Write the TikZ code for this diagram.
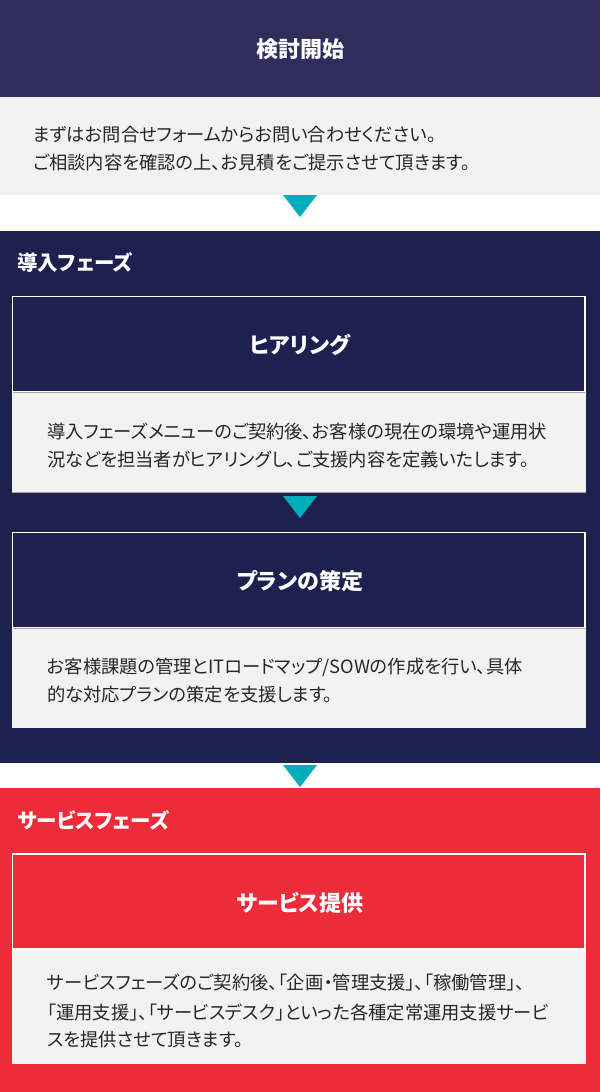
\documentclass[tikz,border=0pt]{standalone}
\usepackage{fontspec}
\usetikzlibrary{calc}
\setmainfont{Noto Sans CJK JP}[RawFeature=+palt]
\begin{document}
\begin{tikzpicture}[x=1pt,y=-1pt,
  title/.style={font=\fontsize{22}{24}\selectfont\bfseries, text=white, inner sep=0pt},
  phase/.style={font=\fontsize{20.5}{24}\selectfont\bfseries, text=white, inner sep=0pt, anchor=west},
  body/.style={font=\fontsize{18.3}{20}\selectfont, text=bodyc, inner sep=0pt, anchor=west},
  marker/.style={fill=tealc},
  panel/.style={fill=greyc},
  header/.style={draw=white, line width=1.6pt}
]
\definecolor{topc}{HTML}{302D5D}
\definecolor{navyc}{HTML}{1C214F}
\definecolor{redc}{HTML}{EE2B39}
\definecolor{tealc}{HTML}{00AEBB}
\definecolor{greyc}{HTML}{F2F2F2}
\definecolor{bodyc}{HTML}{262626}
\definecolor{linec}{HTML}{A6A6B0}
\useasboundingbox (0,0) rectangle (600,1092);
\fill[white] (0,0) rectangle (600,1092);

% --- start block
\fill[topc] (0,0) rectangle (600,96.5);
\node[title] (t0) at (300,49) {検討開始};
\fill[panel] (0,96.5) rectangle (600,195);
\node[body] (b0a) at (33,135) {まずはお問合せフォームからお問い合わせください。};
\node[body] (b0b) at (33,163) {ご相談内容を確認の上、お見積をご提示させて頂きます。};
\coordinate (m1) at (300,195);
\fill[marker] ($(m1)+(-17,0)$) -- ($(m1)+(17,0)$) -- ($(m1)+(0,22)$) -- cycle;

% --- introduction phase
\fill[navyc] (0,231) rectangle (600,763);
\node[phase] (p1) at (17,262) {導入フェーズ};

\fill[panel] (12,392) rectangle (585.5,492.5);
\draw[linec, line width=0.6pt] (12,492.5) -- (585.5,492.5);
\draw[header, fill=navyc] (12.5,296.5) rectangle (585,392);
\draw[linec, line width=0.8pt] (13,392.6) -- (584.5,392.6);
\node[title] (t1) at (300,345) {ヒアリング};
\node[body] (b1a) at (47,431.5) {導入フェーズメニューのご契約後、お客様の現在の環境や運用状};
\node[body] (b1b) at (47,460) {況などを担当者がヒアリングし、ご支援内容を定義いたします。};
\coordinate (m2) at (300,496);
\fill[marker] ($(m2)+(-17,0)$) -- ($(m2)+(17,0)$) -- ($(m2)+(0,22)$) -- cycle;

\fill[panel] (12,628) rectangle (585.5,727.5);
\draw[header, fill=navyc] (12.5,532.5) rectangle (585,628);
\draw[linec, line width=0.8pt] (13,628.6) -- (584.5,628.6);
\node[title] (t2) at (300,581) {プランの策定};
\node[body] (b2a) at (47,667) {お客様課題の管理とITロードマップ/SOWの作成を行い、具体};
\node[body] (b2b) at (47,695) {的な対応プランの策定を支援します。};
\coordinate (m3) at (300,765);
\fill[marker] ($(m3)+(-17,0)$) -- ($(m3)+(17,0)$) -- ($(m3)+(0,22)$) -- cycle;

% --- service phase
\fill[redc] (0,788) rectangle (600,1092);
\node[phase] (p2) at (17,820) {サービスフェーズ};
\fill[panel] (12,949) rectangle (585.5,1064);
\draw[header, fill=redc] (12.5,854) rectangle (585,949);
\node[title] (t3) at (300,903) {サービス提供};
\node[body] (b3a) at (47,983) {サービスフェーズのご契約後、「企画・管理支援」、「稼働管理」、};
\node[body] (b3b) at (47,1012) {「運用支援」、「サービスデスク」といった各種定常運用支援サービ};
\node[body] (b3c) at (47,1040) {スを提供させて頂きます。};
\end{tikzpicture}
\end{document}
